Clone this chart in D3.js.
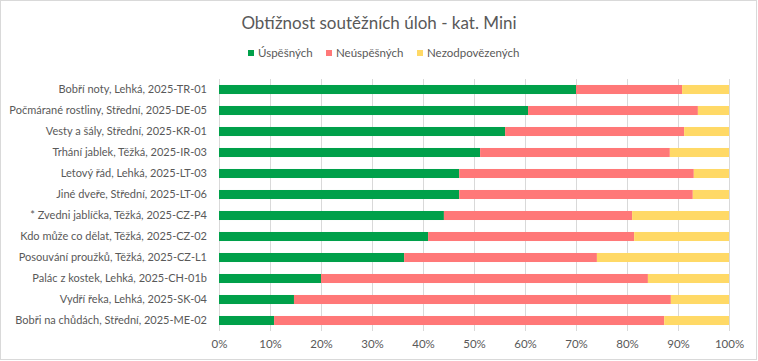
<!DOCTYPE html>
<html>
<head>
<meta charset="utf-8">
<script src="https://cdn.jsdelivr.net/npm/d3@7"></script>
<style>
  body { margin: 0; background: #fff; }
  text { font-family: Lato, "Open Sans", sans-serif; fill: #595959; }
</style>
</head>
<body>
<svg id="chart"></svg>
<script>
// task labels, top to bottom
const tasks = [
  "Bobří noty, Lehká, 2025-TR-01",
  "Počmárané rostliny, Střední, 2025-DE-05",
  "Vesty a šály, Střední, 2025-KR-01",
  "Trhání jablek, Těžká, 2025-IR-03",
  "Letový řád, Lehká, 2025-LT-03",
  "Jiné dveře, Střední, 2025-LT-06",
  "* Zvedni jablíčka, Těžká, 2025-CZ-P4",
  "Kdo může co dělat, Těžká, 2025-CZ-02",
  "Posouvání proužků, Těžká, 2025-CZ-L1",
  "Palác z kostek, Lehká, 2025-CH-01b",
  "Vydří řeka, Lehká, 2025-SK-04",
  "Bobři na chůdách, Střední, 2025-ME-02"
];
const seriesNames = ["Úspěšných", "Neúspěšných", "Nezodpovězených"];
const seriesColors = ["#00a04a", "#ff7878", "#ffd966"];
// share of answers, percent
const success  = [70.0, 60.6, 56.1, 51.2, 47.1, 47.1, 44.1, 41.0, 36.3, 20.0, 14.7, 10.8];
const failed   = [20.8, 33.3, 35.1, 37.2, 46.0, 45.8, 36.9, 40.4, 37.8, 64.1, 73.9, 76.5];
const noAnswer = [ 9.2,  6.1,  8.8, 11.6,  6.9,  7.1, 19.0, 18.6, 25.9, 15.9, 11.4, 12.7];
const xTicks = [0, 10, 20, 30, 40, 50, 60, 70, 80, 90, 100];

const width = 758, height = 361;
const svg = d3.select("#chart").attr("width", width).attr("height", height);

// outer frame
svg.append("rect")
   .attr("x", 0.5).attr("y", 0.5)
   .attr("width", width - 2).attr("height", height - 2)
   .attr("fill", "#fff").attr("stroke", "#d9d9d9");

const rows = tasks.map((t, i) => ({ task: t, v: [success[i], failed[i], noAnswer[i]] }));
const stacked = d3.stack().keys([0, 1, 2]).value((d, k) => d.v[k])(rows);

const x = d3.scaleLinear().domain([0, 100]).range([219, 729]);
const y = d3.scaleBand().domain(tasks).range([79, 331])
            .paddingInner(0.57).paddingOuter(0.285);

// gridlines
svg.append("g").selectAll("line")
   .data(xTicks)
   .join("line")
   .attr("x1", d => Math.round(x(d)) + 0.5).attr("x2", d => Math.round(x(d)) + 0.5)
   .attr("y1", 79).attr("y2", 331)
   .attr("stroke", "#d9d9d9");

// bars
svg.append("g").selectAll("g")
   .data(stacked)
   .join("g")
   .attr("fill", (d, i) => seriesColors[i])
   .selectAll("rect")
   .data(d => d)
   .join("rect")
   .attr("x", d => x(d[0]))
   .attr("width", d => x(d[1]) - x(d[0]))
   .attr("y", d => y(d.data.task))
   .attr("height", y.bandwidth());

// x axis labels
const xAxis = svg.append("g")
   .attr("transform", `translate(0,331)`)
   .call(d3.axisBottom(x).tickValues(xTicks).tickFormat(d => d + "%").tickSize(0).tickPadding(9));
xAxis.select(".domain").remove();
xAxis.selectAll("text").attr("font-size", 11.5).style("font-family", "Lato, sans-serif").attr("fill", "#595959");

// y axis labels
const yAxis = svg.append("g")
   .attr("transform", `translate(207,0)`)
   .call(d3.axisLeft(y).tickSize(0).tickPadding(0));
yAxis.select(".domain").remove();
const yLabels = yAxis.selectAll("text")
   .attr("font-size", 12).style("font-family", "Lato, sans-serif").attr("fill", "#595959");
// shrink so the longest label fits the space the reference gives it
const longest = d3.max(yLabels.nodes(), n => n.getComputedTextLength());
yLabels.attr("font-size", Math.min(12, 12 * 198 / longest));

// title
svg.append("text")
   .attr("x", 379).attr("y", 29)
   .attr("text-anchor", "middle")
   .attr("font-size", 17)
   .text("Obtížnost soutěžních úloh - kat. Mini");

// legend
const legendX = [248, 326, 417];
const legend = svg.append("g").selectAll("g")
   .data(seriesNames)
   .join("g")
   .attr("transform", (d, i) => `translate(${legendX[i]},53)`);
legend.append("rect")
   .attr("x", 0).attr("y", -3).attr("width", 6).attr("height", 6)
   .attr("fill", (d, i) => seriesColors[i]);
legend.append("text")
   .attr("x", 10).attr("y", 4)
   .attr("font-size", 11.5)
   .text(d => d);
</script>
</body>
</html>
